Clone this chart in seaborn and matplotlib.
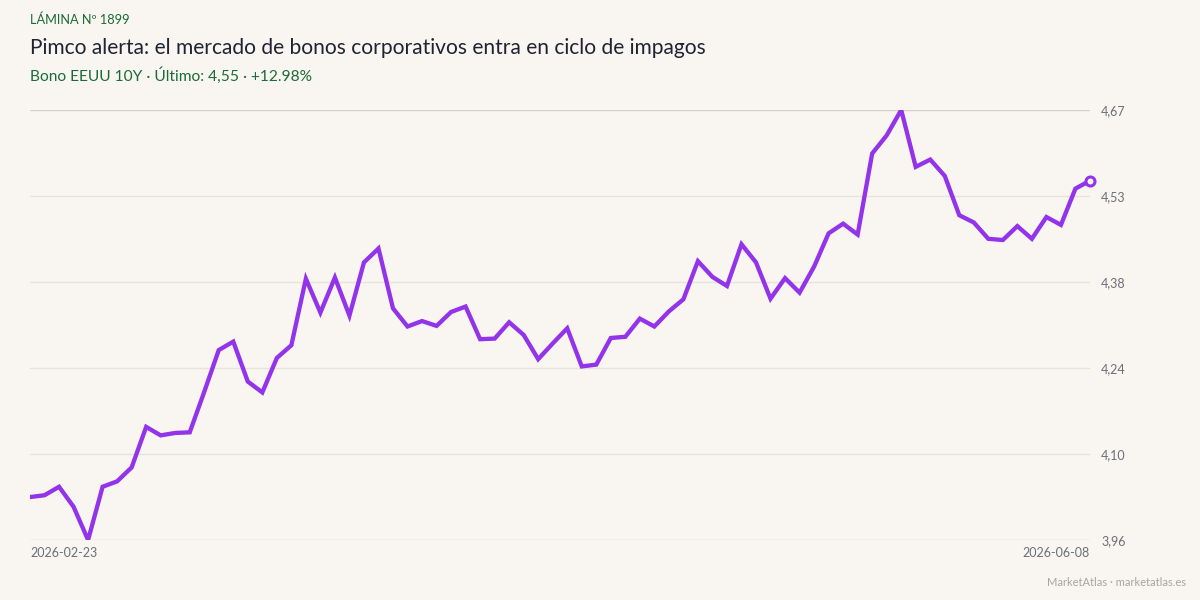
import numpy as np
import pandas as pd
import matplotlib
matplotlib.use("Agg")
import matplotlib.pyplot as plt
import seaborn as sns

# ---- data ----
start_label = "2026-02-23"
end_label = "2026-06-08"
yields = [
    4.028, 4.031, 4.045, 4.012, 3.957, 4.045, 4.054, 4.077, 4.144, 4.130,
    4.134, 4.135, 4.202, 4.271, 4.285, 4.219, 4.201, 4.258, 4.279, 4.389,
    4.333, 4.391, 4.328, 4.416, 4.439, 4.340, 4.310, 4.319, 4.311, 4.334,
    4.343, 4.289, 4.290, 4.317, 4.296, 4.256, 4.282, 4.307, 4.244, 4.247,
    4.291, 4.293, 4.323, 4.310, 4.335, 4.355, 4.418, 4.392, 4.377, 4.446,
    4.416, 4.356, 4.390, 4.366, 4.409, 4.464, 4.480, 4.462, 4.596, 4.626,
    4.668, 4.574, 4.586, 4.559, 4.494, 4.482, 4.455, 4.453, 4.476, 4.455,
    4.491, 4.478, 4.538, 4.551,
]
kicker = "LÁMINA Nº 1899"
title = "Pimco alerta: el mercado de bonos corporativos entra en ciclo de impagos"
subtitle = "Bono EEUU 10Y · Último: 4,55 · +12.98%"
footer = "MarketAtlas · marketatlas.es"

df = pd.DataFrame({"idx": np.arange(len(yields)), "value": yields})

BG = "#f9f6f1"
PURPLE = "#9333ea"
GREEN = "#1b6b38"
TITLE_C = "#1f2433"
TICK_C = "#6b6f78"

sns.set_theme(style="white")
plt.rcParams["font.family"] = ["Lato", "DejaVu Sans"]

fig = plt.figure(figsize=(12, 6), dpi=100, facecolor=BG)
ax = fig.add_axes([0.025, 0.1, 0.8833, 0.7167])
ax.set_facecolor(BG)

sns.lineplot(data=df, x="idx", y="value", ax=ax, color=PURPLE, linewidth=3.1,
             solid_joinstyle="miter", zorder=3)
last = df.iloc[[-1]]
sns.scatterplot(data=last, x="idx", y="value", ax=ax, s=42, facecolor=BG,
                edgecolor=PURPLE, linewidth=2.2, zorder=4, clip_on=False)

vmin, vmax = min(yields), max(yields)
ax.set_xlim(0, len(yields) - 1)
ax.set_ylim(vmin, vmax)
ticks = np.linspace(vmin, vmax, 6)
ax.set_yticks(ticks)
ax.set_yticklabels([f"{t:.2f}".replace(".", ",") for t in ticks])
ax.yaxis.tick_right()
ax.tick_params(axis="y", length=0, pad=8, labelsize=9, labelcolor=TICK_C)
ax.set_xticks([])
ax.set_xlabel("")
ax.set_ylabel("")
for s in ax.spines.values():
    s.set_visible(False)

ax.grid(axis="y", color="#e8e4dc", linewidth=1)
ax.set_axisbelow(True)
gl = ax.get_ygridlines()
gl[0].set_color("#d6d1c6")
gl[-1].set_color("#d6d1c6")

fig.text(30 / 1200, 1 - 553 / 600, start_label, ha="left", va="center",
         fontsize=9, color=TICK_C)
fig.text(1090 / 1200, 1 - 553 / 600, end_label, ha="right", va="center",
         fontsize=9, color=TICK_C)

fig.text(30 / 1200, 1 - 20 / 600, kicker, ha="left", va="center",
         fontsize=9.2, color=GREEN)
fig.text(30 / 1200, 1 - 48 / 600, title, ha="left", va="center",
         fontsize=15.1, color=TITLE_C)
fig.text(30 / 1200, 1 - 76 / 600, subtitle, ha="left", va="center",
         fontsize=11.2, color=GREEN)
fig.text(1186 / 1200, 1 - 583 / 600, footer, ha="right", va="center",
         fontsize=8, color="#a8a6a2")

fig.savefig("out.png", dpi=100, facecolor=BG)
